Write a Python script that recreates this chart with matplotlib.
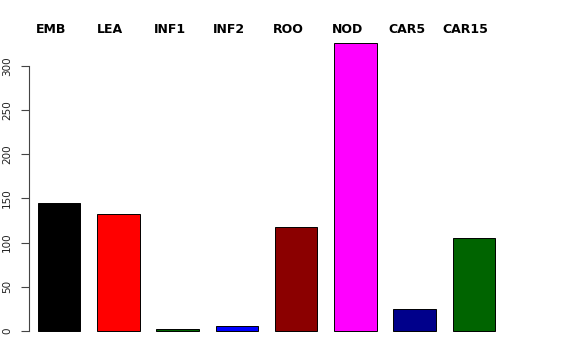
import numpy as np
import matplotlib
matplotlib.use("Agg")
import matplotlib.pyplot as plt

# values
categories = ["EMB", "LEA", "INF1", "INF2", "ROO", "NOD", "CAR5", "CAR15"]
counts = [145, 133, 2, 6, 118, 326, 25, 105]
bar_colors = ["black", "red", "darkgreen", "blue", "darkred", "magenta", "darkblue", "darkgreen"]
yticks = [0, 50, 100, 150, 200, 250, 300]

fig = plt.figure(figsize=(5.76, 3.6), dpi=100)
ax = fig.add_axes([29 / 576, 1 - 342.5 / 360, 475 / 576, 311 / 360])

# R barplot style: width 1, space 0.4
x = 0.4 + 1.4 * np.arange(len(categories)) + 0.5
ax.bar(x, counts, width=1.0, color=bar_colors, edgecolor="black", linewidth=0.7)

ax.set_xlim(0.187, 11.413)
ax.set_ylim(-13, 339)

for xi, name in zip(x, categories):
    ax.text(xi - 0.19, 341, name, ha="center", va="center", fontsize=9,
            fontweight="bold", family="DejaVu Sans", clip_on=False)

for s in ["top", "right", "bottom"]:
    ax.spines[s].set_visible(False)
ax.spines["left"].set_bounds(0, 300)
ax.spines["left"].set_color("#444444")
ax.spines["left"].set_linewidth(0.8)
ax.set_xticks([])
ax.set_yticks(yticks)
ax.set_yticklabels([str(v) for v in yticks], rotation=90, va="center", fontsize=7.5,
                   color="#222222")
ax.tick_params(axis="y", length=5.8, width=0.8, color="#444444", pad=6.5)

fig.savefig("out.png", dpi=100)
